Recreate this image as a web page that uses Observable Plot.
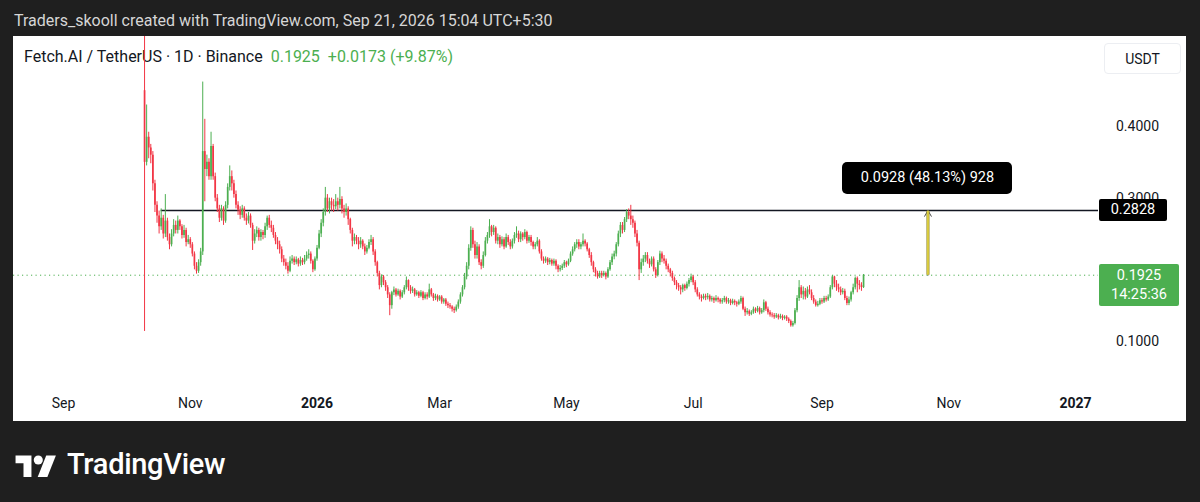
<!DOCTYPE html>
<html>
<head>
<meta charset="utf-8">
<script src="https://cdn.jsdelivr.net/npm/d3@7"></script>
<script src="https://cdn.jsdelivr.net/npm/@observablehq/plot@0.6"></script>
<style>
  html, body { margin:0; padding:0; width:1200px; height:502px; overflow:hidden; background:#1f1f1f; font-family: Roboto, "Noto Sans", sans-serif; }
  #hdr { position:absolute; left:14px; top:11px; color:#d6d6d6; font-size:16px; white-space:nowrap; }
  #panel { position:absolute; left:13px; top:36px; width:1173px; height:385px; background:#fff; overflow:hidden; }
  #legend { position:absolute; left:11px; top:11px; font-size:16px; color:#131722; white-space:nowrap; }
  #legend .g { color:#4caf50; }
  #chart { position:absolute; left:0; top:0; }
  .ov { position:absolute; white-space:nowrap; font-size:14px; }
  #logo { position:absolute; left:15px; top:447px; display:flex; align-items:center; color:#fff; }
  #logo span { font-size:29px; font-weight:500; margin-left:10px; letter-spacing:-0.3px; }
</style>
</head>
<body>
<div id="hdr"></div>
<div id="panel">
  <div id="legend"></div>
  <div id="chart"></div>
</div>
<div id="logo">
  <svg width="42" height="25" viewBox="0 0 36 22"><path d="M14 22H7V10H0V3h14z" fill="#fff"/><circle cx="20" cy="7" r="4" fill="#fff"/><path d="M27 3h8.5l-7.5 19H19.5z" fill="#fff"/></svg>
  <span>TradingView</span>
</div>
<script>
// ---------- data ----------
const headerText = "Traders_skooll created with TradingView.com, Sep 21, 2026 15:04 UTC+5:30";
const symbolText = "Fetch.AI / TetherUS · 1D · Binance";
const lastText = "0.1925";
const changeText = "+0.0173 (+9.87%)";
const firstDay = "2025-10-10";
const firstOpen = 0.45;
const closes = [
  .35,.385,.37,.36,.32,.29,.275,.26,.272,.25,
  .268,.245,.235,.25,.262,.255,.268,.26,.248,.255,
  .238,.242,.235,.222,.205,.198,.21,.225,.365,.34,
  .35,.33,.372,.33,.3,.285,.272,.285,.268,.29,
  .315,.33,.32,.305,.29,.283,.276,.285,.272,.268,
  .275,.262,.24,.25,.255,.245,.252,.248,.26,.272,
  .262,.258,.248,.24,.235,.228,.215,.21,.205,.198,
  .212,.215,.21,.214,.208,.213,.21,.215,.22,.222,
  .212,.2,.215,.23,.25,.265,.28,.3,.285,.295,
  .29,.288,.295,.29,.298,.285,.28,.285,.27,.255,
  .24,.245,.24,.235,.24,.232,.225,.23,.238,.242,
  .225,.21,.195,.178,.19,.182,.175,.165,.15,.168,
  .172,.165,.17,.162,.168,.175,.185,.175,.17,.172,
  .165,.168,.163,.168,.16,.165,.162,.172,.165,.16,
  .163,.158,.162,.155,.158,.152,.15,.148,.145,.143,
  .148,.155,.165,.175,.19,.205,.23,.255,.235,.22,
  .232,.21,.205,.22,.24,.248,.26,.252,.258,.24,
  .245,.235,.242,.232,.245,.238,.232,.24,.248,.25,
  .242,.25,.245,.252,.24,.245,.238,.232,.235,.24,
  .225,.215,.212,.215,.21,.213,.208,.212,.205,.2,
  .202,.205,.21,.207,.212,.222,.228,.235,.238,.232,
  .235,.24,.236,.228,.22,.21,.2,.195,.19,.195,
  .192,.195,.19,.2,.21,.218,.222,.235,.25,.262,
  .255,.27,.28,.275,.27,.265,.25,.237,.2,.21,
  .215,.22,.212,.207,.215,.2,.192,.21,.222,.215,
  .212,.205,.2,.195,.188,.182,.178,.175,.172,.178,
  .174,.18,.185,.19,.182,.172,.165,.162,.16,.163,
  .161,.163,.158,.16,.157,.16,.158,.155,.157,.16,
  .155,.157,.153,.156,.154,.152,.155,.16,.145,.14,
  .142,.138,.14,.145,.142,.146,.14,.143,.154,.145,
  .14,.137,.136,.134,.136,.133,.135,.132,.134,.131,
  .128,.122,.125,.143,.16,.175,.165,.17,.162,.172,
  .168,.16,.155,.15,.152,.157,.155,.16,.158,.162,
  .175,.19,.18,.175,.172,.168,.17,.16,.153,.158,
  .168,.175,.188,.18,.178,.1752,.1925
];
const highs = [
  .53,.43,.392,.375,.365,.325,.295,.282,.285,.276,
  .305,.272,.25,.256,.27,.268,.275,.27,.263,.262,
  .258,.248,.245,.238,.225,.21,.214,.23,.462,.41,
  .36,.355,.392,.375,.335,.305,.29,.29,.288,.295,
  .32,.345,.338,.325,.31,.295,.288,.29,.288,.278,
  .28,.278,.265,.256,.26,.258,.256,.255,.265,.275,
  .276,.268,.262,.252,.245,.24,.232,.22,.215,.21,
  .218,.22,.218,.218,.216,.218,.216,.22,.225,.228,
  .225,.214,.218,.234,.255,.27,.285,.315,.305,.3,
  .3,.298,.305,.3,.315,.302,.29,.292,.288,.272,
  .258,.25,.248,.245,.245,.242,.236,.234,.242,.248,
  .245,.228,.212,.198,.193,.192,.185,.178,.168,.17,
  .176,.174,.173,.172,.171,.178,.19,.186,.178,.176,
  .174,.171,.17,.171,.17,.168,.168,.18,.174,.167,
  .166,.165,.164,.164,.16,.16,.155,.153,.15,.148,
  .151,.158,.168,.178,.195,.21,.235,.26,.258,.24,
  .238,.235,.214,.225,.245,.252,.27,.262,.262,.26,
  .25,.248,.246,.245,.25,.248,.242,.243,.252,.26,
  .254,.253,.252,.256,.254,.248,.248,.24,.238,.245,
  .242,.228,.218,.218,.217,.216,.215,.215,.214,.207,
  .206,.208,.213,.212,.215,.225,.232,.238,.242,.242,
  .238,.25,.242,.238,.23,.224,.212,.203,.198,.198,
  .198,.198,.197,.203,.213,.222,.226,.238,.254,.266,
  .266,.273,.284,.285,.29,.275,.268,.255,.24,.215,
  .22,.224,.224,.215,.218,.218,.203,.213,.226,.225,
  .22,.215,.208,.202,.198,.19,.185,.181,.178,.18,
  .18,.183,.188,.194,.192,.185,.175,.168,.165,.166,
  .166,.167,.165,.163,.162,.164,.162,.16,.16,.163,
  .162,.16,.159,.159,.158,.156,.158,.163,.162,.148,
  .146,.144,.143,.148,.147,.149,.148,.146,.158,.156,
  .148,.143,.14,.139,.139,.138,.138,.137,.136,.136,
  .133,.13,.128,.146,.164,.185,.178,.176,.174,.176,
  .178,.172,.164,.158,.156,.16,.16,.163,.163,.165,
  .178,.192,.191,.185,.18,.176,.174,.173,.163,.162,
  .17,.18,.19,.19,.185,.182,.1935
];
const lows = [
  .114,.345,.355,.348,.31,.28,.265,.25,.255,.243,
  .245,.24,.228,.232,.246,.25,.25,.255,.243,.244,
  .232,.235,.23,.218,.2,.194,.195,.205,.22,.295,
  .33,.325,.325,.325,.295,.28,.266,.268,.262,.265,
  .285,.31,.31,.3,.285,.276,.27,.272,.268,.262,
  .264,.258,.227,.236,.245,.24,.24,.242,.244,.255,
  .258,.252,.244,.235,.228,.222,.21,.205,.2,.194,
  .196,.208,.206,.207,.204,.205,.206,.207,.212,.215,
  .208,.196,.198,.212,.228,.245,.26,.275,.28,.278,
  .282,.28,.284,.282,.285,.278,.272,.275,.262,.25,
  .232,.235,.235,.228,.23,.228,.22,.222,.228,.234,
  .22,.205,.19,.172,.175,.178,.17,.16,.136,.145,
  .164,.162,.163,.158,.16,.165,.172,.17,.166,.167,
  .162,.163,.16,.161,.157,.158,.158,.16,.162,.156,
  .157,.155,.156,.152,.152,.149,.146,.145,.141,.139,
  .141,.145,.152,.162,.172,.186,.2,.226,.23,.215,
  .215,.206,.2,.202,.218,.236,.244,.246,.248,.236,
  .235,.23,.232,.228,.23,.234,.228,.229,.236,.244,
  .238,.238,.24,.242,.236,.237,.233,.228,.228,.232,
  .222,.212,.208,.209,.206,.207,.205,.205,.2,.196,
  .197,.199,.202,.203,.205,.21,.219,.225,.23,.228,
  .228,.232,.232,.225,.216,.205,.196,.19,.187,.188,
  .188,.19,.186,.188,.198,.206,.214,.218,.232,.245,
  .25,.252,.266,.27,.262,.258,.245,.232,.185,.195,
  .205,.21,.208,.202,.204,.197,.188,.19,.206,.21,
  .208,.2,.196,.19,.184,.178,.172,.17,.165,.168,
  .17,.172,.176,.182,.178,.168,.162,.158,.155,.158,
  .157,.158,.155,.155,.153,.155,.154,.152,.152,.154,
  .152,.152,.15,.151,.15,.148,.15,.152,.143,.135,
  .137,.135,.136,.138,.139,.14,.137,.138,.14,.142,
  .137,.134,.133,.131,.132,.13,.131,.129,.13,.128,
  .125,.12,.12,.123,.14,.156,.16,.158,.158,.16,
  .165,.157,.152,.148,.148,.15,.152,.153,.155,.156,
  .16,.172,.175,.17,.168,.164,.165,.157,.15,.15,
  .155,.165,.172,.168,.172,.17,.174
];
const levelPrice = 0.2828;
const levelStart = "2025-10-18";
const lastPrice = 0.1925;
const countdownText = "14:25:36";
const measureDate = "2026-10-22";
const measureText = "0.0928 (48.13%) 928";
const currencyText = "USDT";
const monthTickDates = ["2025-09-01","2025-11-01","2026-03-01","2026-05-01","2026-07-01","2026-09-01","2026-11-01"];
const monthTickLabels = ["Sep","Nov","Mar","May","Jul","Sep","Nov"];
const yearTickDates = ["2026-01-01","2027-01-01"];
const yearTickLabels = ["2026","2027"];
const priceTicks = [0.1, 0.3, 0.4];
const priceTickLabels = ["0.1000","0.3000","0.4000"];

// ---------- build ----------
const GREEN = "#4caf50", RED = "#f23645", INK = "#131722";
const day0 = new Date(firstDay + "T00:00Z");
const candles = closes.map((c, i) => ({
  date: d3.utcDay.offset(day0, i),
  open: i === 0 ? firstOpen : closes[i - 1],
  high: highs[i], low: lows[i], close: c
}));
const colorOf = d => d.close >= d.open ? GREEN : RED;
const xDomain = [new Date("2025-08-07T22:20Z"), new Date("2027-01-12T01:40Z")];
const monthTicks = monthTickDates.map((d, i) => ({date: new Date(d + "T00:00Z"), label: monthTickLabels[i]}));
const yearTicks = yearTickDates.map((d, i) => ({date: new Date(d + "T00:00Z"), label: yearTickLabels[i]}));
const yTicks = priceTicks.map((v, i) => ({v, label: priceTickLabels[i]}));
const mDate = new Date(measureDate + "T00:00Z");

document.getElementById("hdr").textContent = headerText;
document.getElementById("legend").innerHTML =
  `<span>${symbolText}</span>&nbsp;&nbsp;<span class="g">${lastText}</span>&nbsp;&nbsp;<span class="g">${changeText}</span>`;

const chart = Plot.plot({
  width: 1173, height: 385,
  marginLeft: 0, marginRight: 88, marginTop: 0, marginBottom: 33,
  style: {background: "transparent", fontFamily: "Roboto, sans-serif", fontSize: "14px", color: INK},
  x: {type: "utc", domain: xDomain, axis: null},
  y: {domain: [0.0344, 0.5256], axis: null},
  marks: [
    Plot.ruleY([lastPrice], {stroke: GREEN, strokeWidth: 1, strokeDasharray: "1.2,3.3"}),
    Plot.ruleY([levelPrice], {x1: new Date(levelStart + "T00:00Z"), x2: xDomain[1], stroke: INK, strokeWidth: 1.3}),
    Plot.ruleX(candles, {x: "date", y1: "low", y2: "high", stroke: colorOf, strokeWidth: 1, clip: true}),
    Plot.ruleX(candles, {x: "date", y1: "open", y2: "close", stroke: colorOf, strokeWidth: 1.7, clip: true}),
    Plot.arrow([0], {x1: mDate, x2: mDate, y1: lastPrice, y2: levelPrice, stroke: "#4a4a4a", strokeWidth: 1, headLength: 10, bend: 0}),
    Plot.ruleX([mDate], {y1: lastPrice, y2: levelPrice - 0.001, stroke: "#8c8424", strokeWidth: 3}),
    Plot.ruleX([mDate], {y1: lastPrice, y2: levelPrice - 0.001, stroke: "#f6e64a", strokeWidth: 1.4}),
    Plot.text(monthTicks, {x: "date", text: "label", frameAnchor: "bottom", dy: 19, fill: INK, fontSize: 14}),
    Plot.text(yearTicks, {x: "date", text: "label", frameAnchor: "bottom", dy: 19, fill: INK, fontSize: 14, fontWeight: "bold"}),
    Plot.text(yTicks, {y: "v", text: "label", frameAnchor: "right", dx: 39, textAnchor: "middle", fill: INK, fontSize: 14})
  ]
});
const holder = document.getElementById("chart");
holder.appendChild(chart);

// overlays positioned through the chart's scales
const xs = chart.scale("x"), ys = chart.scale("y");
const plotRight = 1173 - 88;
function addBox(html, css) {
  const d = document.createElement("div");
  d.className = "ov";
  d.innerHTML = html;
  Object.assign(d.style, css);
  holder.appendChild(d);
  return d;
}
// currency box
addBox(currencyText, {left: (plotRight + 6) + "px", top: "7px", width: "77px", height: "31px", lineHeight: "31px",
  textAlign: "center", border: "1px solid #eceef2", borderRadius: "4px", background: "#fff", color: INK, boxSizing: "border-box"});
// level price label
const yl = ys.apply(levelPrice);
addBox(levelPrice.toFixed(4), {left: (plotRight + 1) + "px", top: (yl - 11) + "px", width: "68px", height: "22px",
  lineHeight: "22px", textAlign: "center", background: "#000", color: "#fff", borderRadius: "2px", fontSize: "14.5px"});
// last price label
const yp = ys.apply(lastPrice);
addBox(`${lastPrice.toFixed(4)}<br>${countdownText}`, {left: (plotRight + 1) + "px", top: (yp - 11) + "px", width: "80px", height: "42px",
  lineHeight: "19px", padding: "2px 0 0 0", boxSizing: "border-box", textAlign: "center", background: GREEN, color: "#fff", borderRadius: "2px", fontSize: "14.5px"});
// measure label
const xm = xs.apply(mDate);
addBox(measureText, {left: (xm - 85) + "px", top: (yl - 48) + "px", width: "170px", height: "32px", lineHeight: "32px",
  textAlign: "center", background: "#000", color: "#fff", borderRadius: "5px", fontSize: "14.5px"});
</script>
</body>
</html>
